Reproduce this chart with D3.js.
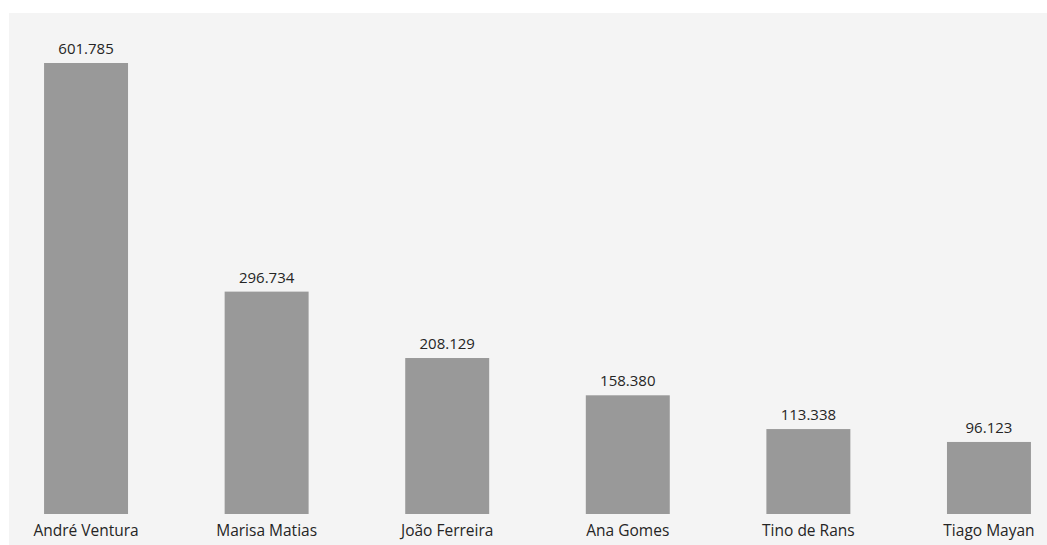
<!DOCTYPE html>
<html>
<head>
<meta charset="utf-8">
<script src="https://cdn.jsdelivr.net/npm/d3@7"></script>
<style>
  html, body { margin: 0; padding: 0; background: #ffffff; }
  svg { display: block; }
  text { font-family: "Open Sans", "Noto Sans", sans-serif; fill: #252525; }
</style>
</head>
<body>
<svg id="chart" width="1047" height="545"></svg>
<script>
// Votes per candidate (thousands)
const candidates = ["André Ventura", "Marisa Matias", "João Ferreira", "Ana Gomes", "Tino de Rans", "Tiago Mayan"];
const votes = [601.785, 296.734, 208.129, 158.380, 113.338, 96.123];
const voteLabels = ["601.785", "296.734", "208.129", "158.380", "113.338", "96.123"];

const width = 1047, height = 545;
const svg = d3.select("#chart");

// Light panel behind the plot
svg.append("rect")
  .attr("x", 9).attr("y", 13)
  .attr("width", width - 9).attr("height", height - 13)
  .attr("fill", "#f4f4f4");

const x = d3.scaleBand()
  .domain(candidates)
  .range([26, 1049])
  .paddingInner(0.535)
  .paddingOuter(0.1);

const y = d3.scaleLinear()
  .domain([0, d3.max(votes)])
  .range([514, 63]);

const data = candidates.map((c, i) => ({ name: c, value: votes[i], label: voteLabels[i] }));

svg.append("g").selectAll("rect")
  .data(data)
  .join("rect")
  .attr("x", d => x(d.name))
  .attr("y", d => y(d.value))
  .attr("width", x.bandwidth())
  .attr("height", d => y(0) - y(d.value))
  .attr("fill", "#999999");

// Value labels above each bar
svg.append("g").selectAll("text")
  .data(data)
  .join("text")
  .attr("x", d => x(d.name) + x.bandwidth() / 2)
  .attr("y", d => y(d.value) - 9)
  .attr("text-anchor", "middle")
  .style("font-size", "15px")
  .text(d => d.label);

// Category axis labels
const xAxis = svg.append("g")
  .attr("transform", `translate(0,${y(0)})`)
  .call(d3.axisBottom(x).tickSize(0).tickPadding(11));
xAxis.select(".domain").remove();
xAxis.selectAll("text")
  .style("font-size", "15.5px")
  .attr("fill", "#252525");
</script>
</body>
</html>
